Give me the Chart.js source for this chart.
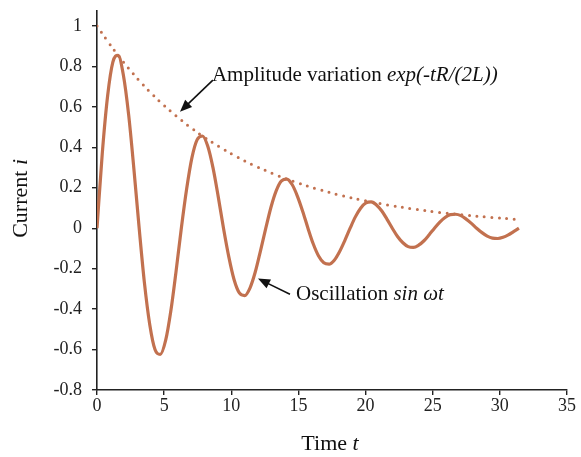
<!DOCTYPE html>
<html>
<head>
<meta charset="utf-8">
<script src="https://cdn.jsdelivr.net/npm/chart.js@4/dist/chart.umd.min.js"></script>
<style>
  html, body { margin: 0; padding: 0; background: #fff; overflow: hidden; }
  #wrap { width: 581px; height: 457px; overflow: hidden; }
  #chart { display: block; margin-top: -10px; }
</style>
</head>
<body>
<div id="wrap"><canvas id="chart" width="581" height="467"></canvas></div>
<script>
// dados
const tempo = [0, 0.39, 0.79, 1.18, 1.57, 1.96, 2.36, 2.75, 3.14, 3.53, 3.93, 4.32, 4.71, 5.11, 5.50, 5.89,
  6.28, 6.68, 7.07, 7.46, 7.85, 8.25, 8.64, 9.03, 9.42, 9.82, 10.21, 10.60, 11.00, 11.39, 11.78, 12.17,
  12.57, 12.96, 13.35, 13.74, 14.14, 14.53, 14.92, 15.32, 15.71, 16.10, 16.49, 16.89, 17.28, 17.67, 18.06, 18.46,
  18.85, 19.24, 19.63, 20.03, 20.42, 20.81, 21.21, 21.60, 21.99, 22.38, 22.78, 23.17, 23.56, 23.95, 24.35, 24.74,
  25.13, 25.53, 25.92, 26.31, 26.70, 27.10, 27.49, 27.88, 28.27, 28.67, 29.06, 29.45, 29.85, 30.24, 30.63, 31.02, 31.42];
const corrente = [0, 0.368, 0.654, 0.821, 0.855, 0.759, 0.559, 0.291, 0, -0.269, -0.477, -0.600, -0.624, -0.555, -0.408, -0.212,
  0, 0.196, 0.349, 0.438, 0.456, 0.405, 0.298, 0.155, 0, -0.143, -0.255, -0.320, -0.333, -0.296, -0.218, -0.113,
  0, 0.105, 0.186, 0.234, 0.243, 0.216, 0.159, 0.083, 0, -0.077, -0.136, -0.171, -0.178, -0.158, -0.116, -0.060,
  0, 0.056, 0.099, 0.125, 0.130, 0.115, 0.085, 0.044, 0, -0.041, -0.072, -0.091, -0.095, -0.084, -0.062, -0.032,
  0, 0.030, 0.053, 0.067, 0.069, 0.062, 0.045, 0.024, 0, -0.022, -0.039, -0.049, -0.051, -0.045, -0.033, -0.017, 0];
const tempoEnv = [0, 0.79, 1.57, 2.36, 3.14, 3.93, 4.71, 5.50, 6.28, 7.07, 7.85, 8.64, 9.42, 10.21, 11.00, 11.78,
  12.57, 13.35, 14.14, 14.92, 15.71, 16.49, 17.28, 18.06, 18.85, 19.63, 20.42, 21.21, 21.99, 22.78, 23.56,
  24.35, 25.13, 25.92, 26.70, 27.49, 28.27, 29.06, 29.85, 30.63, 31.42];
const envelope = [1, 0.925, 0.855, 0.790, 0.730, 0.675, 0.624, 0.577, 0.534, 0.493, 0.456, 0.422, 0.390, 0.360,
  0.333, 0.308, 0.285, 0.263, 0.243, 0.225, 0.208, 0.192, 0.178, 0.164, 0.152, 0.140, 0.130, 0.120, 0.111,
  0.103, 0.095, 0.088, 0.081, 0.075, 0.069, 0.064, 0.059, 0.055, 0.051, 0.047, 0.043];
const xTicks = [0, 5, 10, 15, 20, 25, 30, 35];
const yTicks = [-0.8, -0.6, -0.4, -0.2, 0, 0.2, 0.4, 0.6, 0.8, 1];

const COR = '#c2714f';
const FONTE = '"Liberation Serif", "Times New Roman", serif';

// desenha texto com partes normais e itálicas
function texto(c, partes, x, y, tam, centro) {
  c.save();
  c.fillStyle = '#111';
  c.textBaseline = 'middle';
  c.textAlign = 'left';
  let total = 0;
  partes.forEach(p => {
    c.font = (p.italic ? 'italic ' : '') + tam + 'px ' + FONTE;
    total += c.measureText(p.t).width;
  });
  if (centro) x -= total / 2;
  partes.forEach(p => {
    c.font = (p.italic ? 'italic ' : '') + tam + 'px ' + FONTE;
    c.fillText(p.t, x, y);
    x += c.measureText(p.t).width;
  });
  c.restore();
}

// anotações com setas e títulos dos eixos
const anotacoes = {
  id: 'anotacoes',
  afterDraw(chart) {
    const c = chart.ctx;
    const xs = chart.scales.x, ys = chart.scales.y, area = chart.chartArea;
    function seta(x1, y1, x2, y2) {
      const ang = Math.atan2(y2 - y1, x2 - x1);
      c.save();
      c.strokeStyle = '#111';
      c.fillStyle = '#111';
      c.lineWidth = 1.6;
      c.beginPath();
      c.moveTo(x1, y1);
      c.lineTo(x2 - 8 * Math.cos(ang), y2 - 8 * Math.sin(ang));
      c.stroke();
      c.beginPath();
      c.moveTo(x2, y2);
      c.lineTo(x2 - 12 * Math.cos(ang) + 5 * Math.sin(ang), y2 - 12 * Math.sin(ang) - 5 * Math.cos(ang));
      c.lineTo(x2 - 12 * Math.cos(ang) - 5 * Math.sin(ang), y2 - 12 * Math.sin(ang) + 5 * Math.cos(ang));
      c.closePath();
      c.fill();
      c.restore();
    }
    seta(xs.getPixelForValue(8.63), ys.getPixelForValue(0.732), xs.getPixelForValue(6.18), ys.getPixelForValue(0.576));
    texto(c, [{ t: 'Amplitude variation ' }, { t: 'exp(-tR/(2L))', italic: true }],
      xs.getPixelForValue(8.56), ys.getPixelForValue(0.756), 21, false);
    seta(xs.getPixelForValue(14.37), ys.getPixelForValue(-0.327), xs.getPixelForValue(11.99), ys.getPixelForValue(-0.249));
    texto(c, [{ t: 'Oscillation ' }, { t: 'sin \u03c9t', italic: true }],
      xs.getPixelForValue(14.82), ys.getPixelForValue(-0.327), 21, false);

    // títulos
    texto(c, [{ t: 'Time ' }, { t: 't', italic: true }], (area.left + area.right) / 2 - 2, area.bottom + 54, 22, true);
    c.save();
    c.translate(21, (area.top + area.bottom) / 2 - 2);
    c.rotate(-Math.PI / 2);
    texto(c, [{ t: 'Current ' }, { t: 'i', italic: true }], 0, 0, 22, true);
    c.restore();
  }
};

const ctx = document.getElementById('chart').getContext('2d');
const grafico = new Chart(ctx, {
  type: 'line',
  data: {
    datasets: [
      {
        label: 'Envelope',
        data: tempoEnv.map((t, i) => ({ x: t, y: envelope[i] })),
        borderColor: COR,
        borderWidth: 3,
        borderDash: [0, 7.5],
        borderCapStyle: 'round',
        pointRadius: 0,
        tension: 0.4,
        fill: false
      },
      {
        label: 'Corrente',
        data: tempo.map((t, i) => ({ x: t, y: corrente[i] })),
        borderColor: COR,
        borderWidth: 3.2,
        pointRadius: 0,
        cubicInterpolationMode: 'monotone',
        fill: false
      }
    ]
  },
  options: {
    responsive: false,
    animation: false,
    layout: { padding: { top: 4, right: 14, left: 0, bottom: 0 } },
    plugins: { legend: { display: false }, tooltip: { enabled: false } },
    scales: {
      x: {
        type: 'linear',
        min: 0,
        max: 35,
        afterBuildTicks: s => { s.ticks = xTicks.map(v => ({ value: v })); },
        afterFit: s => { s.height = 67; },
        grid: { drawOnChartArea: false, drawTicks: true, tickLength: 5, color: '#222', lineWidth: 1.4 },
        border: { display: true, color: '#222', width: 1.6 },
        ticks: { color: '#222', padding: 0, maxRotation: 0, font: { family: FONTE, size: 18 } },
        title: { display: false }
      },
      y: {
        type: 'linear',
        min: -0.8,
        max: 1.075,
        afterBuildTicks: s => { s.ticks = yTicks.map(v => ({ value: v })); },
        afterFit: s => { s.width = 97; },
        grid: { drawOnChartArea: false, drawTicks: true, tickLength: 5, color: '#222', lineWidth: 1.4 },
        border: { display: true, color: '#222', width: 1.6 },
        ticks: {
          color: '#222',
          padding: 10,
          font: { family: FONTE, size: 18 },
          callback: v => String(Math.round(v * 10) / 10)
        },
        title: { display: false }
      }
    }
  },
  plugins: [anotacoes]
});
</script>
</body>
</html>
